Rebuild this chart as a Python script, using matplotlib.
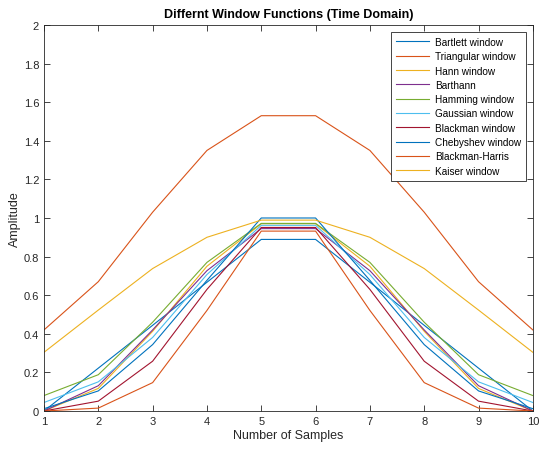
import matplotlib
matplotlib.use("Agg")
import matplotlib.pyplot as plt

plt.rcParams['font.family'] = ['Liberation Sans', 'DejaVu Sans']

samples = [1, 2, 3, 4, 5, 6, 7, 8, 9, 10]

# half windows (symmetric)
bartlett_half = [0.0, 0.222, 0.444, 0.667, 0.889]
triang_half = [0.42, 0.67, 1.03, 1.35, 1.53]
hann_half = [0.0, 0.117, 0.413, 0.750, 0.970]
barthann_half = [0.0, 0.131, 0.420, 0.727, 0.945]
hamming_half = [0.08, 0.188, 0.460, 0.770, 0.972]
gauss_half = [0.044, 0.151, 0.381, 0.707, 0.962]
blackman_half = [0.0, 0.051, 0.258, 0.630, 0.951]
cheb_half = [0.012, 0.104, 0.344, 0.677, 1.0]
bh_half = [0.0, 0.015, 0.147, 0.521, 0.932]
kaiser_half = [0.304, 0.523, 0.738, 0.900, 0.989]

names = ['Bartlett window', 'Triangular window', 'Hann window', 'Barthann',
         'Hamming window', 'Gaussian window', 'Blackman window',
         'Chebyshev window', 'Blackman-Harris', 'Kaiser window']
halves = [bartlett_half, triang_half, hann_half, barthann_half, hamming_half,
          gauss_half, blackman_half, cheb_half, bh_half, kaiser_half]

colors = ['#0072BD', '#D95319', '#EDB120', '#7E2F8E', '#77AC30',
          '#4DBEEE', '#A2142F']

fig = plt.figure(figsize=(5.39, 4.52), dpi=100)
ax = fig.add_axes([0.0816, 0.0885, 0.907, 0.854])

for i, (name, h) in enumerate(zip(names, halves)):
    w = h + h[::-1]
    ax.plot(samples, w, color=colors[i % 7], lw=0.8, label=name)

ax.set_xlim(1, 10)
ax.set_ylim(0, 2)
ax.set_xticks(samples)
ax.set_yticks([0, 0.2, 0.4, 0.6, 0.8, 1, 1.2, 1.4, 1.6, 1.8, 2])
ax.set_yticklabels(['0', '0.2', '0.4', '0.6', '0.8', '1', '1.2', '1.4', '1.6', '1.8', '2'])
ax.tick_params(direction='in', top=True, right=True, labelsize=8, colors='#262626',
               length=4, width=0.6)
for s in ax.spines.values():
    s.set_color('#262626')
    s.set_linewidth(0.6)

ax.set_xlabel('Number of Samples', fontsize=9, color='#262626', labelpad=2)
ax.set_ylabel('Amplitude', fontsize=9, color='#262626', labelpad=2)
ax.set_title('Differnt Window Functions (Time Domain)', fontsize=9, fontweight='bold', pad=6)

leg = ax.legend(loc='upper right', fontsize=7.2, fancybox=False, framealpha=1,
                edgecolor='#262626', handlelength=3.3, labelspacing=0.43,
                borderaxespad=0.7, handletextpad=0.6, borderpad=0.5)
leg.get_frame().set_linewidth(0.6)

fig.savefig('out.png', dpi=100)
